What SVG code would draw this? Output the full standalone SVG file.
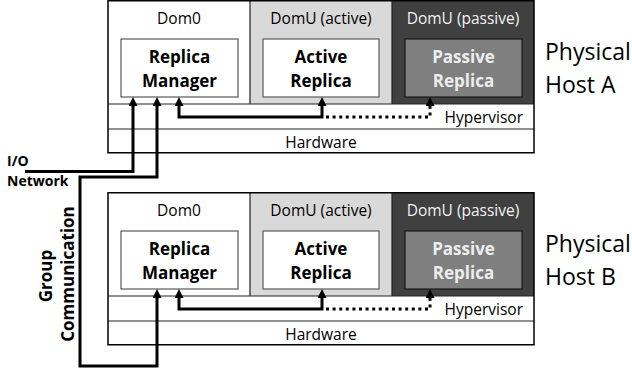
<svg xmlns="http://www.w3.org/2000/svg" width="632" height="372" viewBox="0 0 632 372">
<style>
.lbl{font-family:"Open Sans","Liberation Sans",sans-serif;font-size:15.5px;fill:#000}
.lblw{font-family:"Open Sans","Liberation Sans",sans-serif;font-size:15.5px;fill:#f2f2f2}
.bold{font-family:"Open Sans","Liberation Sans",sans-serif;font-size:17px;font-weight:bold;fill:#000}
.boldw{font-family:"Open Sans","Liberation Sans",sans-serif;font-size:17px;font-weight:bold;fill:#ededed}
.host{font-family:"Open Sans","Liberation Sans",sans-serif;font-size:23px;fill:#000}
.side{font-family:"Open Sans","Liberation Sans",sans-serif;font-size:14px;font-weight:bold;fill:#000}
.rot{font-family:"Open Sans","Liberation Sans",sans-serif;font-size:17px;font-weight:bold;fill:#000}
.outer{stroke:#000;stroke-width:1.5;fill:none}
.sep{stroke:#222;stroke-width:1.2;fill:none}
.ibox{fill:#fff;stroke:#595959;stroke-width:1.2}
.pbox{fill:#7f7f7f;stroke:#1a1a1a;stroke-width:1.2}
.conn{fill:none;stroke:#000;stroke-width:3}
.dot{fill:none;stroke:#000;stroke-width:3;stroke-dasharray:3 3.6}
</style>
<defs>
<marker id="ah" viewBox="0 0 10 10" refX="0" refY="5" markerWidth="9" markerHeight="9" markerUnits="userSpaceOnUse" orient="auto-start-reverse">
<path d="M0,0 L10,5 L0,10 z" fill="#000"/>
</marker>
<g id="hostShape">
<rect x="108" y="0.75" width="426" height="152" fill="#fff"/>
<rect x="250" y="0.75" width="142" height="103.25" fill="#d9d9d9"/>
<rect x="392" y="0.75" width="142" height="103.25" fill="#404040"/>
<path class="sep" d="M108,104 H534 M108,129 H534 M250,0.75 V104 M392,0.75 V104"/>
<rect class="outer" x="108" y="0.75" width="426" height="152"/>
</g>
</defs>

<g id="hostA">
<use href="#hostShape"/>
<text class="lbl" x="179" y="23.5" text-anchor="middle">Dom0</text>
<text class="lbl" x="321" y="23.5" text-anchor="middle">DomU (active)</text>
<text class="lblw" x="463" y="23.5" text-anchor="middle">DomU (passive)</text>
<text class="lbl" x="523" y="123" text-anchor="end">Hypervisor</text>
<text class="lbl" x="321" y="147.5" text-anchor="middle">Hardware</text>
<text class="host" x="545" y="60">Physical</text>
<text class="host" x="545" y="93">Host A</text>
</g>
<g id="rmA">
<rect class="ibox" x="121" y="39" width="117" height="58"/>
<text class="bold" x="179.5" y="63" text-anchor="middle">Replica</text>
<text class="bold" x="179.5" y="87" text-anchor="middle">Manager</text>
</g>
<g id="arA">
<rect class="ibox" x="263" y="39" width="116" height="58"/>
<text class="bold" x="321" y="63" text-anchor="middle">Active</text>
<text class="bold" x="321" y="87" text-anchor="middle">Replica</text>
</g>
<g id="prA">
<rect class="pbox" x="405" y="39" width="117" height="58"/>
<text class="boldw" x="463.5" y="63" text-anchor="middle">Passive</text>
<text class="boldw" x="463.5" y="87" text-anchor="middle">Replica</text>
</g>

<g id="hostB" transform="translate(0,192)">
<use href="#hostShape"/>
<text class="lbl" x="179" y="23.5" text-anchor="middle">Dom0</text>
<text class="lbl" x="321" y="23.5" text-anchor="middle">DomU (active)</text>
<text class="lblw" x="463" y="23.5" text-anchor="middle">DomU (passive)</text>
<text class="lbl" x="523" y="123" text-anchor="end">Hypervisor</text>
<text class="lbl" x="321" y="147.5" text-anchor="middle">Hardware</text>
<text class="host" x="545" y="60">Physical</text>
<text class="host" x="545" y="93">Host B</text>
</g>
<g id="rmB" transform="translate(0,192)">
<rect class="ibox" x="121" y="39" width="117" height="58"/>
<text class="bold" x="179.5" y="63" text-anchor="middle">Replica</text>
<text class="bold" x="179.5" y="87" text-anchor="middle">Manager</text>
</g>
<g id="arB" transform="translate(0,192)">
<rect class="ibox" x="263" y="39" width="116" height="58"/>
<text class="bold" x="321" y="63" text-anchor="middle">Active</text>
<text class="bold" x="321" y="87" text-anchor="middle">Replica</text>
</g>
<g id="prB" transform="translate(0,192)">
<rect class="pbox" x="405" y="39" width="117" height="58"/>
<text class="boldw" x="463.5" y="63" text-anchor="middle">Passive</text>
<text class="boldw" x="463.5" y="87" text-anchor="middle">Replica</text>
</g>

<g id="labels">
<text class="side" x="7" y="166">I/O</text>
<text class="side" x="7" y="186">Network</text>
<text class="rot" transform="translate(51.5,276) rotate(-90)" text-anchor="middle">Group</text>
<text class="rot" transform="translate(73.5,274) rotate(-90)" text-anchor="middle">Communication</text>
</g>

<g id="connectors">
<path class="conn" d="M25,171.5 H133 V106" marker-end="url(#ah)"/>
<path class="conn" d="M157,106 V177 H80 V366 H157 V298" marker-start="url(#ah)" marker-end="url(#ah)"/>
<path class="conn" d="M179,106 V117 H322 V106" marker-start="url(#ah)" marker-end="url(#ah)"/>
<path class="dot" d="M326,117 H430 V106" marker-end="url(#ah)"/>
<path class="conn" d="M179,298 V309 H322 V298" marker-start="url(#ah)" marker-end="url(#ah)"/>
<path class="dot" d="M326,309 H430 V298" marker-end="url(#ah)"/>
</g>
</svg>
